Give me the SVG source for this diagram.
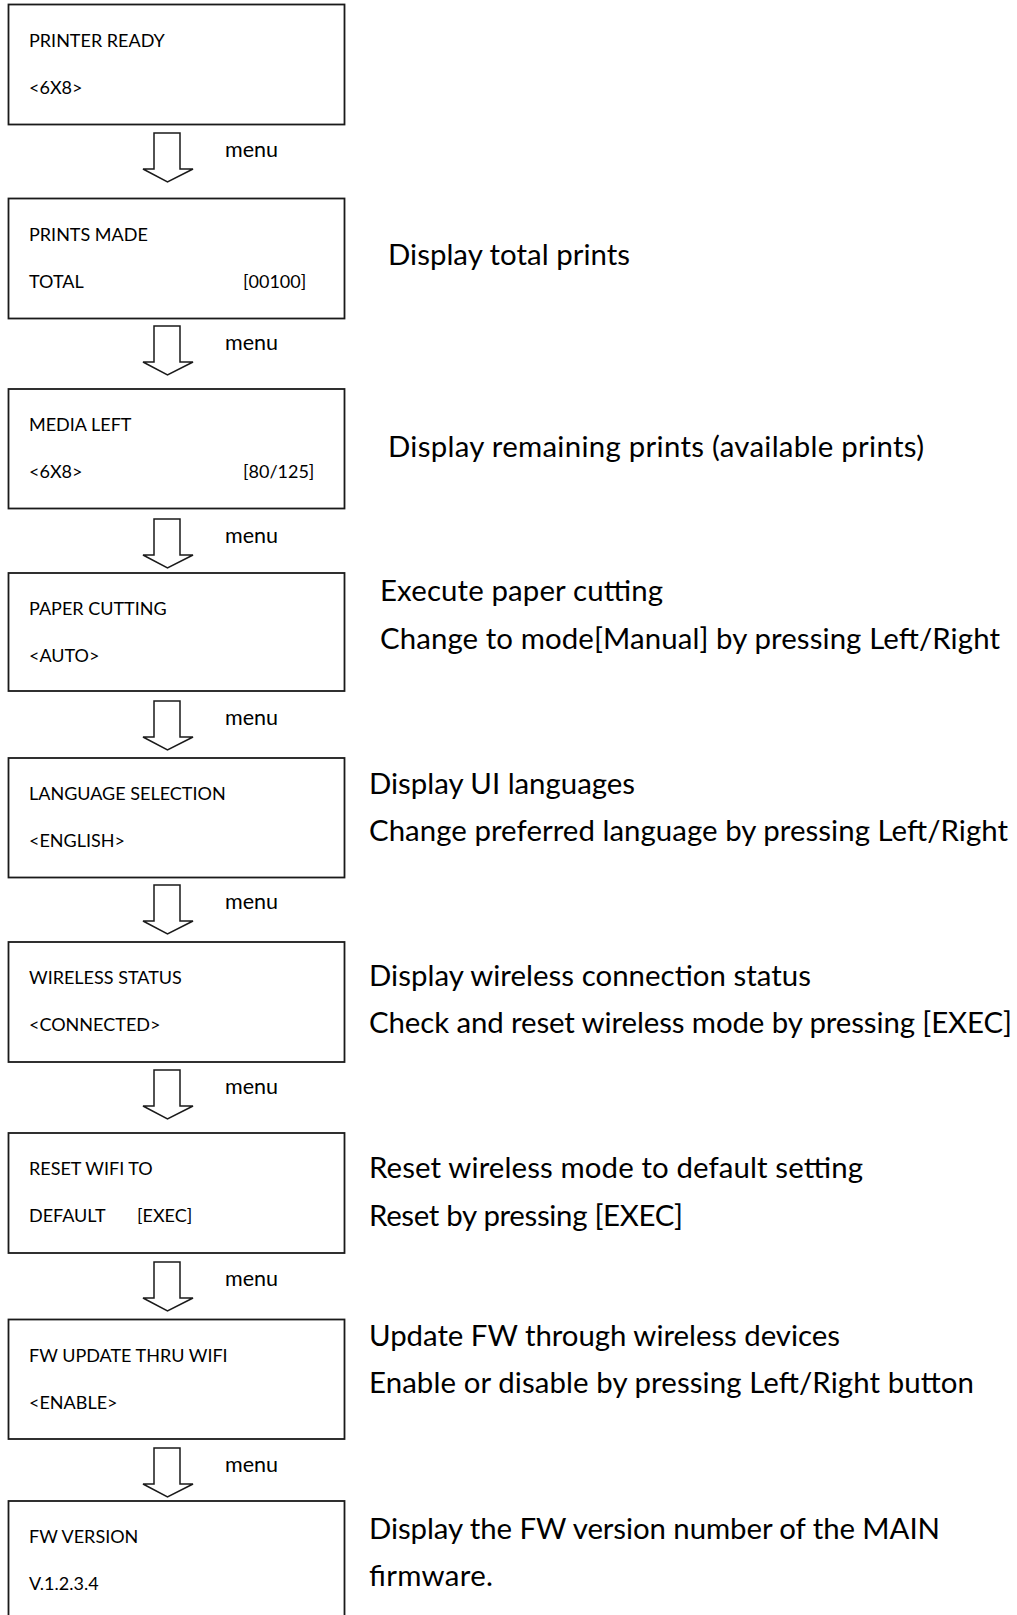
<svg xmlns="http://www.w3.org/2000/svg" width="1017" height="1615" viewBox="0 0 1017 1615">
  <style>
    .box { fill: #ffffff; stroke: #1a1a1a; stroke-width: 1.8; }
    .arrow { fill: #ffffff; stroke: #1a1a1a; stroke-width: 1.5; stroke-linejoin: miter; }
    .lcd { font-family: Lato, "Open Sans", "Liberation Sans", sans-serif; font-size: 18px; fill: #000; }
    .key { font-family: Lato, "Open Sans", "Liberation Sans", sans-serif; font-size: 21.5px; fill: #000; }
    .note { font-family: Lato, "Open Sans", "Liberation Sans", sans-serif; font-size: 29.4px; fill: #000; }
  </style>
  <defs>
    <!-- hollow block arrow, shaft top at y=0, centred on x=0 -->
    <polygon id="down-arrow" class="arrow" points="-13.5,0 12.5,0 12.5,36 25.5,36 0,49 -24.5,36 -13.5,36"/>
  </defs>
  <rect width="1017" height="1615" fill="#ffffff"/>

  <!-- connectors between the menu screens -->
  <g id="connectors">
    <use href="#down-arrow" x="167.5" y="133"/>
    <use href="#down-arrow" x="167.5" y="326"/>
    <use href="#down-arrow" x="167.5" y="519"/>
    <use href="#down-arrow" x="167.5" y="701"/>
    <use href="#down-arrow" x="167.5" y="885"/>
    <use href="#down-arrow" x="167.5" y="1070"/>
    <use href="#down-arrow" x="167.5" y="1262"/>
    <use href="#down-arrow" x="167.5" y="1448"/>
    <text class="key" x="225" y="157">menu</text>
    <text class="key" x="225" y="350">menu</text>
    <text class="key" x="225" y="543">menu</text>
    <text class="key" x="225" y="725">menu</text>
    <text class="key" x="225" y="909">menu</text>
    <text class="key" x="225" y="1094">menu</text>
    <text class="key" x="225" y="1286">menu</text>
    <text class="key" x="225" y="1472">menu</text>
  </g>

  <!-- screens -->
  <g id="printer-ready">
    <rect class="box" x="8.5" y="4.5" width="336" height="120"/>
    <text class="lcd" x="29" y="47">PRINTER READY</text>
    <text class="lcd" x="29" y="94">&lt;6X8&gt;</text>
  </g>

  <g id="prints-made">
    <rect class="box" x="8.5" y="198.5" width="336" height="120"/>
    <text class="lcd" x="29" y="240.5">PRINTS MADE</text>
    <text class="lcd" x="29" y="287.5">TOTAL</text>
    <text class="lcd" x="243" y="287.5">[00100]</text>
    <text class="note" x="388" y="265" textLength="242" lengthAdjust="spacing">Display total prints</text>
  </g>

  <g id="media-left">
    <rect class="box" x="8.5" y="389" width="336" height="119.5"/>
    <text class="lcd" x="29" y="431">MEDIA LEFT</text>
    <text class="lcd" x="29" y="478">&lt;6X8&gt;</text>
    <text class="lcd" x="243" y="478">[80/125]</text>
    <text class="note" x="388" y="457" textLength="536" lengthAdjust="spacing">Display remaining prints (available prints)</text>
  </g>

  <g id="paper-cutting">
    <rect class="box" x="8.5" y="573" width="336" height="118"/>
    <text class="lcd" x="29" y="615">PAPER CUTTING</text>
    <text class="lcd" x="29" y="662">&lt;AUTO&gt;</text>
    <text class="note" x="380" y="601" textLength="283" lengthAdjust="spacing">Execute paper cutting</text>
    <text class="note" x="380" y="649" textLength="620" lengthAdjust="spacing">Change to mode[Manual] by pressing Left/Right</text>
  </g>

  <g id="language-selection">
    <rect class="box" x="8.5" y="758" width="336" height="119.5"/>
    <text class="lcd" x="29" y="800">LANGUAGE SELECTION</text>
    <text class="lcd" x="29" y="847">&lt;ENGLISH&gt;</text>
    <text class="note" x="369" y="794" textLength="266" lengthAdjust="spacing">Display UI languages</text>
    <text class="note" x="369" y="841" textLength="639" lengthAdjust="spacing">Change preferred language by pressing Left/Right</text>
  </g>

  <g id="wireless-status">
    <rect class="box" x="8.5" y="942" width="336" height="120"/>
    <text class="lcd" x="29" y="984">WIRELESS STATUS</text>
    <text class="lcd" x="29" y="1031">&lt;CONNECTED&gt;</text>
    <text class="note" x="369" y="986" textLength="442" lengthAdjust="spacing">Display wireless connection status</text>
    <text class="note" x="369" y="1033" textLength="643" lengthAdjust="spacing">Check and reset wireless mode by pressing [EXEC]</text>
  </g>

  <g id="reset-wifi">
    <rect class="box" x="8.5" y="1133" width="336" height="120"/>
    <text class="lcd" x="29" y="1175">RESET WIFI TO</text>
    <text class="lcd" x="29" y="1222">DEFAULT</text>
    <text class="lcd" x="137" y="1222">[EXEC]</text>
    <text class="note" x="369" y="1178" textLength="494" lengthAdjust="spacing">Reset wireless mode to default setting</text>
    <text class="note" x="369" y="1226" textLength="314" lengthAdjust="spacing">Reset by pressing [EXEC]</text>
  </g>

  <g id="fw-update">
    <rect class="box" x="8.5" y="1319.5" width="336" height="119.5"/>
    <text class="lcd" x="29" y="1361.5">FW UPDATE THRU WIFI</text>
    <text class="lcd" x="29" y="1408.5">&lt;ENABLE&gt;</text>
    <text class="note" x="369" y="1346" textLength="471" lengthAdjust="spacing">Update FW through wireless devices</text>
    <text class="note" x="369" y="1393" textLength="605" lengthAdjust="spacing">Enable or disable by pressing Left/Right button</text>
  </g>

  <g id="fw-version">
    <rect class="box" x="8.5" y="1501" width="336" height="130"/>
    <text class="lcd" x="29" y="1543">FW VERSION</text>
    <text class="lcd" x="29" y="1590">V.1.2.3.4</text>
    <text class="note" x="369" y="1539" textLength="571" lengthAdjust="spacing">Display the FW version number of the MAIN</text>
    <text class="note" x="369" y="1586" textLength="124" lengthAdjust="spacing">firmware.</text>
  </g>
</svg>
